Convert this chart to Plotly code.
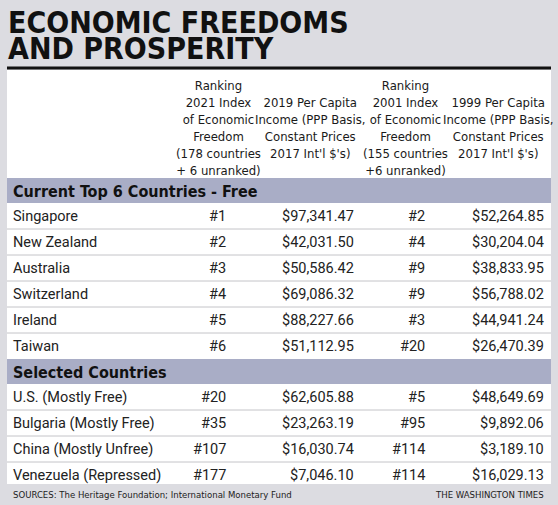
import plotly.graph_objects as go

title_lines = ["ECONOMIC FREEDOMS", "AND PROSPERITY"]
col_headers = [
    "Ranking<br>2021 Index<br>of Economic<br>Freedom<br>(178 countries<br>+ 6 unranked)",
    "2019 Per Capita<br>Income (PPP Basis,<br>Constant Prices<br>2017 Int'l $'s)",
    "Ranking<br>2001 Index<br>of Economic<br>Freedom<br>(155 countries<br>+6 unranked)",
    "1999 Per Capita<br>Income (PPP Basis,<br>Constant Prices<br>2017 Int'l $'s)",
]
section1 = "Current Top 6 Countries - Free"
countries1 = ["Singapore", "New Zealand", "Australia", "Switzerland", "Ireland", "Taiwan"]
rank2021_1 = ["#1", "#2", "#3", "#4", "#5", "#6"]
income2019_1 = ["$97,341.47", "$42,031.50", "$50,586.42", "$69,086.32", "$88,227.66", "$51,112.95"]
rank2001_1 = ["#2", "#4", "#9", "#9", "#3", "#20"]
income1999_1 = ["$52,264.85", "$30,204.04", "$38,833.95", "$56,788.02", "$44,941.24", "$26,470.39"]
section2 = "Selected Countries"
countries2 = ["U.S. (Mostly Free)", "Bulgaria (Mostly Free)", "China (Mostly Unfree)", "Venezuela (Repressed)"]
rank2021_2 = ["#20", "#35", "#107", "#177"]
income2019_2 = ["$62,605.88", "$23,263.19", "$16,030.74", "$7,046.10"]
rank2001_2 = ["#5", "#95", "#114", "#114"]
income1999_2 = ["$48,649.69", "$9,892.06", "$3,189.10", "$16,029.13"]
source = "SOURCES: The Heritage Foundation; International Monetary Fund"
credit = "THE WASHINGTON TIMES"

W, H = 558, 505
BG = "#dcdce1"
BAND = "#a9adc6"
NARROW = "Liberation Sans Narrow, DejaVu Sans Condensed"
fig = go.Figure()
shapes, ann = [], []

def rect(x0, y0, x1, y1, color):
    shapes.append(dict(type="rect", x0=x0, x1=x1, y0=y0, y1=y1, fillcolor=color, line=dict(width=0), layer="below"))

def line(y, color, w):
    shapes.append(dict(type="line", x0=7, x1=551, y0=y, y1=y, line=dict(color=color, width=w), layer="above"))

def text(x, y, s, size, color="#1a1a1a", font="Roboto", xa="left", bold=False):
    if bold:
        s = "<b>" + s + "</b>"
    ann.append(dict(x=x, y=y, text=s, showarrow=False, xanchor=xa, yanchor="middle",
                    font=dict(size=size, color=color, family=font), align=xa if xa != "center" else "center"))

rect(0, 0, W, H, BG)
rect(7, 70, 551, 484, "white")
text(6, 22, title_lines[0], 30, "#111", NARROW, bold=True)
text(6, 48, title_lines[1], 30, "#111", NARROW, bold=True)
line(68, "#111", 3)
hx = [218, 310, 405, 498]
for x, h in zip(hx, col_headers):
    ann.append(dict(x=x, y=128, text=h, showarrow=False, xanchor="center", yanchor="middle",
                    font=dict(size=13, color="#1a1a1a", family=NARROW), align="center"))

colx = [228, 356, 427, 546]

def section(y0, label, names, r1, i1, r2, i2):
    rect(7, y0, 551, y0 + 25, BAND)
    text(11, y0 + 13, label, 16, "#111", NARROW, bold=True)
    y = y0 + 25
    for k, vals in enumerate(zip(names, r1, i1, r2, i2)):
        cy = y + 13 + 26 * k
        text(11, cy, vals[0], 14.5, "#222", "Roboto")
        for x, v in zip(colx, vals[1:]):
            text(x, cy, v, 14.5, "#222", "Roboto", xa="right")
        if k < len(names) - 1:
            line(y + 26 * (k + 1), "#c4c4c8", 1)

section(178, section1, countries1, rank2021_1, income2019_1, rank2001_1, income1999_1)
section(359, section2, countries2, rank2021_2, income2019_2, rank2001_2, income1999_2)
text(11, 494, source, 9.5, "#222", NARROW)
text(546, 494, credit, 9.5, "#222", NARROW, xa="right")

fig.update_layout(width=W, height=H, margin=dict(l=0, r=0, t=0, b=0), paper_bgcolor=BG, plot_bgcolor=BG,
                  xaxis=dict(range=[0, W], visible=False, fixedrange=True),
                  yaxis=dict(range=[H, 0], visible=False, fixedrange=True),
                  shapes=shapes, annotations=ann, showlegend=False)
fig.write_html("out.html", config={"displayModeBar": False},
               post_script="document.body.style.margin='0';document.body.style.overflow='hidden';")
